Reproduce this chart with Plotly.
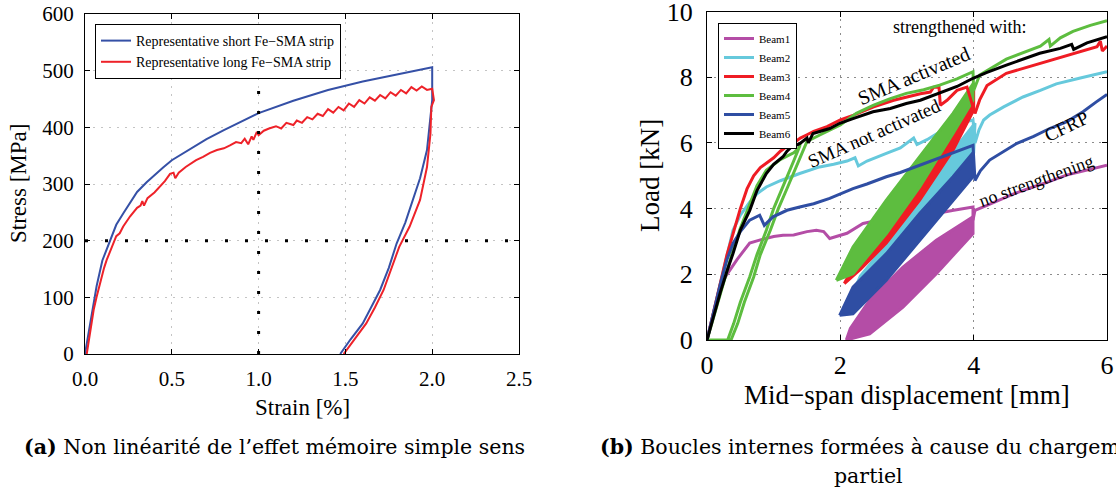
import plotly.graph_objects as go

W, H = 1116, 493
SERIF = "Liberation Serif"
CAPTION_FONT = "DejaVu Serif"


def fx(p):
    return p / W


def fy(p):
    return 1 - p / H


# ---------------- (a) Fe-SMA strips: stress vs strain ----------------
short_strain = [0, 0.02, 0.04, 0.067, 0.1, 0.144, 0.18, 0.22, 0.26, 0.3, 0.355, 0.4, 0.45, 0.5, 0.6,
                0.7, 0.8, 0.9, 1.0, 1.2, 1.4, 1.6, 1.8, 2.0,
                2.0, 1.97, 1.93, 1.89, 1.845, 1.795, 1.75, 1.70, 1.65, 1.60, 1.53, 1.47]
short_stress = [0, 38, 75, 120, 165, 201, 228, 248, 268, 286, 303, 316, 329, 342, 361,
                379, 395, 410, 425, 447, 466, 481, 494, 506,
                448, 360, 310, 272, 232, 195, 152, 113, 82, 54, 26, 0]

long_strain = [0.01, 0.03, 0.05, 0.067, 0.09, 0.11, 0.125, 0.15, 0.18, 0.2, 0.22, 0.26, 0.3, 0.32,
               0.33, 0.34, 0.36, 0.4, 0.43, 0.46, 0.49, 0.51, 0.52, 0.54, 0.58, 0.62, 0.64, 0.68,
               0.72, 0.76, 0.8, 0.835, 0.87, 0.9, 0.92, 0.94, 0.96, 0.97, 0.99, 1.0, 1.03, 1.06,
               1.1, 1.13, 1.16, 1.2, 1.22, 1.25, 1.28, 1.31, 1.34, 1.37, 1.4, 1.43, 1.46, 1.49,
               1.52, 1.55, 1.58, 1.61, 1.64, 1.67, 1.7, 1.73, 1.76, 1.79, 1.82, 1.85, 1.88, 1.91,
               1.94, 1.97, 2.0, 2.01,
               1.995, 1.99, 1.97, 1.93, 1.87, 1.81, 1.76, 1.72, 1.67, 1.62, 1.55, 1.49]
long_stress = [0, 40, 78, 101, 130, 152, 166, 185, 208, 213, 225, 243, 258, 262,
               270, 262, 275, 285, 295, 305, 318, 320, 310, 320, 330, 338, 342, 348,
               355, 360, 363, 368, 374, 372, 380, 370, 384, 378, 392, 386, 394, 398,
               402, 398, 408, 404, 412, 408, 418, 414, 424, 420, 432, 426, 436, 430,
               442, 436, 448, 442, 453, 447, 457, 451, 462, 456, 466, 460, 471, 465,
               472, 466, 468, 448,
               436, 389, 330, 272, 225, 189, 148, 113, 82, 54, 25, 0]

strain_ticks = [0.0, 0.5, 1.0, 1.5, 2.0, 2.5]
stress_ticks = [0, 100, 200, 300, 400, 500, 600]

# ---------------- (b) beams: load vs mid-span displacement ----------------
beam1_disp = [0, 0.1, 0.2, 0.3, 0.45, 0.64, 0.8, 1.0, 1.14, 1.3, 1.5, 1.64, 1.75, 1.84, 1.95, 2.1,
              2.34, 2.6, 2.94, 3.2, 3.44, 3.7, 3.99, 3.99, 4.02, 4.2, 4.39, 4.6, 4.89, 5.1, 5.39,
              5.7, 6.0]
beam1_load = [0, 0.85, 1.65, 2.0, 2.45, 2.95, 3.05, 3.15, 3.19, 3.2, 3.3, 3.34, 3.3, 3.09, 3.15, 3.25,
              3.55, 3.65, 3.8, 3.82, 3.85, 3.95, 4.05, 3.65, 3.95, 4.1, 4.26, 4.45, 4.66, 4.8, 5.02,
              5.18, 5.32]

beam2_disp = [0, 0.1, 0.2, 0.3, 0.39, 0.5, 0.64, 0.75, 0.89, 1.1, 1.39, 1.69, 1.9, 2.1, 2.22, 2.27,
              2.4, 2.69, 2.9, 3.1, 3.15, 3.3, 3.5, 3.8, 3.99,
              4.02, 4.08, 4.15, 4.24, 4.45, 4.74, 5.0, 5.24, 5.6, 6.0]
beam2_load = [0, 0.85, 1.7, 2.55, 3.34, 3.8, 4.2, 4.45, 4.66, 4.85, 5.07, 5.27, 5.35, 5.45, 5.55, 5.3,
              5.45, 5.68, 5.85, 6.15, 5.95, 6.1, 6.35, 6.6, 6.7,
              6.0, 6.4, 6.7, 6.85, 7.1, 7.4, 7.6, 7.8, 7.98, 8.17]

beam3_disp = [0, 0.1, 0.2, 0.3, 0.4, 0.5, 0.6, 0.7, 0.8, 0.9, 1.0, 1.1, 1.2, 1.3, 1.4, 1.5, 1.6,
              1.8, 2.0, 2.2, 2.5, 2.8, 3.0, 3.2, 3.35, 3.4, 3.48, 3.5, 3.6, 3.75, 3.9,
              4.02, 4.09, 4.2, 4.49, 5.0, 5.49, 5.85, 5.9, 5.93, 6.0]
beam3_load = [0, 0.9, 1.75, 2.6, 3.3, 4.0, 4.6, 5.0, 5.25, 5.4, 5.55, 5.75, 5.9, 6.0, 6.15, 6.25, 6.35,
              6.5, 6.7, 6.85, 7.1, 7.3, 7.4, 7.5, 7.55, 7.7, 7.7, 7.15, 7.3, 7.6, 7.7,
              6.9, 7.31, 7.75, 8.12, 8.42, 8.73, 8.93, 9.1, 8.8, 8.95]

beam4_disp = [0, 0.1, 0.2, 0.3, 0.39, 0.5, 0.64, 0.75, 0.89, 1.0, 1.09, 1.2, 1.3, 1.38, 1.4,
              1.39, 1.3, 1.14, 1.0, 0.89, 0.75, 0.64, 0.5, 0.4, 0.31, 0.15, 0.0,
              0.36, 0.46, 0.56, 0.7, 0.8, 0.95, 1.07, 1.21, 1.37, 1.5, 1.7, 1.84, 2.0, 2.24, 2.5,
              2.75, 2.99, 3.25, 3.49, 3.75, 3.99, 4.0,
              4.02, 4.09, 4.49, 4.8, 5.0, 5.13, 5.15, 5.3, 5.49, 5.75, 6.0]
beam4_load = [0, 0.7, 1.4, 2.1, 2.73, 3.4, 4.15, 4.7, 5.17, 5.35, 5.48, 5.6, 5.7, 5.85, 6.0,
              5.9, 5.45, 4.66, 4.0, 3.34, 2.6, 1.92, 1.15, 0.5, 0.0, 0.0, 0.0,
              0.0, 0.5, 1.15, 1.92, 2.6, 3.34, 4.0, 4.66, 5.45, 6.05, 6.25, 6.39, 6.55, 6.9, 7.15,
              7.35, 7.51, 7.62, 7.76, 7.95, 8.17, 7.6,
              7.7, 8.07, 8.55, 8.8, 8.95, 9.15, 8.95, 9.2, 9.4, 9.58, 9.72]

beam5_disp = [0, 0.1, 0.2, 0.3, 0.39, 0.5, 0.64, 0.79, 0.86, 0.99, 1.2, 1.39, 1.6, 1.84, 2.0, 2.19,
              2.4, 2.69, 2.9, 3.19, 3.4, 3.69, 3.85, 3.99,
              4.02, 4.1, 4.24, 4.45, 4.65, 4.9, 5.14, 5.4, 5.64, 5.84, 6.0]
beam5_load = [0, 0.85, 1.7, 2.45, 2.94, 3.3, 3.65, 3.8, 3.49, 3.75, 3.95, 4.05, 4.15, 4.31, 4.45, 4.61,
              4.75, 4.97, 5.1, 5.32, 5.48, 5.68, 5.8, 5.93,
              4.86, 5.15, 5.48, 5.75, 5.99, 6.2, 6.44, 6.65, 6.95, 7.25, 7.48]

beam6_disp = [0, 0.1, 0.2, 0.3, 0.39, 0.5, 0.64, 0.75, 0.89, 1.0, 1.14, 1.2, 1.25, 1.39, 1.5, 1.52,
              1.59, 1.84, 1.99, 2.2, 2.49, 2.75, 2.99, 3.2, 3.49, 3.75, 3.99, 4.2, 4.49, 4.75, 4.99,
              5.3, 5.47, 5.5, 5.7, 6.0]
beam6_load = [0, 0.75, 1.45, 2.1, 2.63, 3.35, 3.94, 4.55, 5.07, 5.35, 5.58, 5.75, 5.85, 5.98, 6.15, 6.0,
              6.29, 6.44, 6.6, 6.75, 6.95, 7.05, 7.2, 7.3, 7.51, 7.72, 7.97, 8.15, 8.37, 8.55, 8.73,
              8.88, 9.0, 8.85, 9.05, 9.24]

# envelopes of the partial unloading/reloading loops (lower edge then upper edge)
beam1_loop_disp = [2.09, 2.44, 2.94, 3.44, 3.99, 3.99, 3.44, 2.94, 2.44, 2.15, 2.09]
beam1_loop_load = [0.0, 0.19, 1.0, 2.02, 3.24, 3.75, 3.04, 2.22, 1.21, 0.35, 0.0]
beam2_loop_disp = [2.1, 2.69, 3.19, 3.69, 4.0, 4.02, 3.69, 3.19, 2.69, 2.3, 2.1]
beam2_loop_load = [1.0, 2.5, 3.75, 4.9, 5.7, 6.6, 5.75, 4.2, 2.9, 1.95, 1.0]
beam3_loop_disp = [2.06, 2.3, 2.69, 3.19, 3.69, 4.0, 4.0, 3.69, 3.19, 2.69, 2.3, 2.06]
beam3_loop_load = [1.72, 2.15, 2.95, 4.26, 5.78, 7.0, 7.6, 6.5, 5.0, 3.6, 2.6, 1.72]
beam4_loop_disp = [1.94, 2.19, 2.69, 3.19, 3.69, 3.99, 3.99, 3.69, 3.19, 2.69, 2.19, 1.94]
beam4_loop_load = [1.82, 2.02, 3.24, 4.66, 6.29, 7.3, 7.8, 6.9, 5.58, 4.26, 2.83, 1.82]
beam5_loop_disp = [1.99, 2.19, 2.69, 3.19, 3.69, 3.99, 3.99, 3.69, 3.19, 2.69, 2.19, 1.99]
beam5_loop_load = [0.75, 0.8, 1.82, 3.04, 4.26, 4.97, 5.7, 4.97, 3.85, 2.63, 1.61, 0.75]

disp_ticks = [0, 2, 4, 6]
load_ticks = [0, 2, 4, 6, 8, 10]

C_SHORT = "#3550a6"
C_LONG = "#ee2229"
C1 = "#b44da6"
C2 = "#66c9dc"
C3 = "#ef1c24"
C4 = "#5dbd3f"
C5 = "#2f4ea3"
C6 = "#000000"

fig = go.Figure()

# ---- panel (a)
fig.add_trace(go.Scatter(x=short_strain, y=short_stress, mode="lines",
                         name="Representative short Fe\u2212SMA strip",
                         line=dict(color=C_SHORT, width=2), xaxis="x", yaxis="y", legend="legend"))
fig.add_trace(go.Scatter(x=long_strain, y=long_stress, mode="lines",
                         name="Representative long Fe\u2212SMA strip",
                         line=dict(color=C_LONG, width=2), xaxis="x", yaxis="y", legend="legend"))


# ---- panel (b)
def beam_line(xs, ys, name, color):
    fig.add_trace(go.Scatter(x=xs, y=ys, mode="lines", name=name, line=dict(color=color, width=3),
                             xaxis="x2", yaxis="y2", legend="legend2"))


def beam_loop(xs, ys, color):
    fig.add_trace(go.Scatter(x=xs, y=ys, mode="lines", fill="toself", fillcolor=color,
                             line=dict(color=color, width=3), showlegend=False, hoverinfo="skip",
                             xaxis="x2", yaxis="y2"))


beam_line(beam1_disp, beam1_load, "Beam1", C1)
beam_line(beam2_disp, beam2_load, "Beam2", C2)
beam_loop(beam1_loop_disp, beam1_loop_load, C1)
beam_loop(beam2_loop_disp, beam2_loop_load, C2)
beam_loop(beam5_loop_disp, beam5_loop_load, C5)
beam_loop(beam3_loop_disp, beam3_loop_load, C3)
beam_loop(beam4_loop_disp, beam4_loop_load, C4)
beam_line(beam3_disp, beam3_load, "Beam3", C3)
beam_line(beam4_disp, beam4_load, "Beam4", C4)
beam_line(beam5_disp, beam5_load, "Beam5", C5)
beam_line(beam6_disp, beam6_load, "Beam6", C6)


def axis(domain, rng, ticks, anchor, size, grid_color, grid_dash, standoff, fmt=None):
    d = dict(domain=domain, range=rng, tickvals=ticks, anchor=anchor, automargin=False,
             showline=True, linecolor="black", linewidth=1, mirror="ticks", ticks="inside",
             ticklen=5, tickcolor="black", showgrid=True, gridcolor=grid_color, griddash=grid_dash,
             gridwidth=1, zeroline=False, ticklabelstandoff=standoff, ticklabeloverflow="allow",
             tickfont=dict(family=SERIF, size=size, color="black"))
    if fmt:
        d["tickformat"] = fmt
    return d


fig.update_layout(
    template="none",
    width=W, height=H, autosize=False,
    font=dict(family=SERIF, color="black"),
    margin=dict(l=0, r=0, t=0, b=0, pad=0, autoexpand=False),
    paper_bgcolor="white", plot_bgcolor="white",
    xaxis=axis([fx(85), fx(519)], [0, 2.5], strain_ticks, "y", 21, "#c4c4c4", "2px,6px", 6, ".1f"),
    yaxis=axis([fy(354), fy(14)], [0, 600], stress_ticks, "x", 21, "#c4c4c4", "2px,6px", 6),
    xaxis2=axis([fx(707), fx(1107)], [0, 6], disp_ticks, "y2", 26, "#8c8c8c", "2px,5px", 2),
    yaxis2=axis([fy(340), fy(11.6)], [0, 10], load_ticks, "x2", 26, "#8c8c8c", "2px,5px", 8),
    legend=dict(x=fx(95), y=fy(24), xanchor="left", yanchor="top", bgcolor="white",
                bordercolor="black", borderwidth=1, font=dict(family=SERIF, size=14, color="black"),
                tracegroupgap=0),
    legend2=dict(x=fx(718), y=fy(23), xanchor="left", yanchor="top", bgcolor="white",
                 bordercolor="black", borderwidth=1, font=dict(family=SERIF, size=11, color="black"),
                 tracegroupgap=0),
    showlegend=True,
)

# emphasised dotted reference lines in panel (a)
fig.add_shape(type="line", xref="x", yref="y", x0=1.0, x1=1.0, y0=0, y1=600,
              line=dict(color="black", width=3, dash="3px,17px"))
fig.add_shape(type="line", xref="x", yref="y", x0=0, x1=2.5, y0=200, y1=200,
              line=dict(color="black", width=3, dash="3px,17px"))

annotations = [
    # axis titles
    dict(text="Strain [%]", x=fx(302), y=fy(407), font=dict(size=23)),
    dict(text="Stress [MPa]", x=fx(18), y=fy(184), textangle=-90, font=dict(size=23)),
    dict(text="Mid\u2212span displacement [mm]", x=fx(907), y=fy(395), font=dict(size=27)),
    dict(text="Load [kN]", x=fx(650), y=fy(176), textangle=-90, font=dict(size=27)),
    # labels inside panel (b)
    dict(text="strengthened with:", x=fx(959), y=fy(27), font=dict(size=18)),
    dict(text="SMA activated", x=fx(913), y=fy(76), textangle=-23, font=dict(size=20)),
    dict(text="SMA not activated", x=fx(874), y=fy(134), textangle=-24, font=dict(size=19)),
    dict(text="CFRP", x=fx(1066), y=fy(126), textangle=-26, font=dict(size=19)),
    dict(text="no strengthening", x=fx(1036), y=fy(181), textangle=-20, font=dict(size=18)),
    # captions
    dict(text="<b>(a)</b> Non linéarité de l\u2019effet mémoire simple sens", x=fx(22), y=fy(447),
         xanchor="left", font=dict(size=20.5, family=CAPTION_FONT)),
    dict(text="<b>(b)</b> Boucles internes formées à cause du chargement", x=fx(598), y=fy(447),
         xanchor="left", font=dict(size=20.5, family=CAPTION_FONT)),
    dict(text="partiel", x=fx(868), y=fy(476), font=dict(size=20.5, family=CAPTION_FONT)),
]
for a in annotations:
    a.setdefault("xanchor", "center")
    a.update(xref="paper", yref="paper", showarrow=False, yanchor="middle")
    f = dict(family=SERIF, color="black")
    f.update(a["font"])
    a["font"] = f
    fig.add_annotation(**a)

fig.write_html("out.html", config={"displayModeBar": False},
               post_script="document.body.style.margin='0';")
